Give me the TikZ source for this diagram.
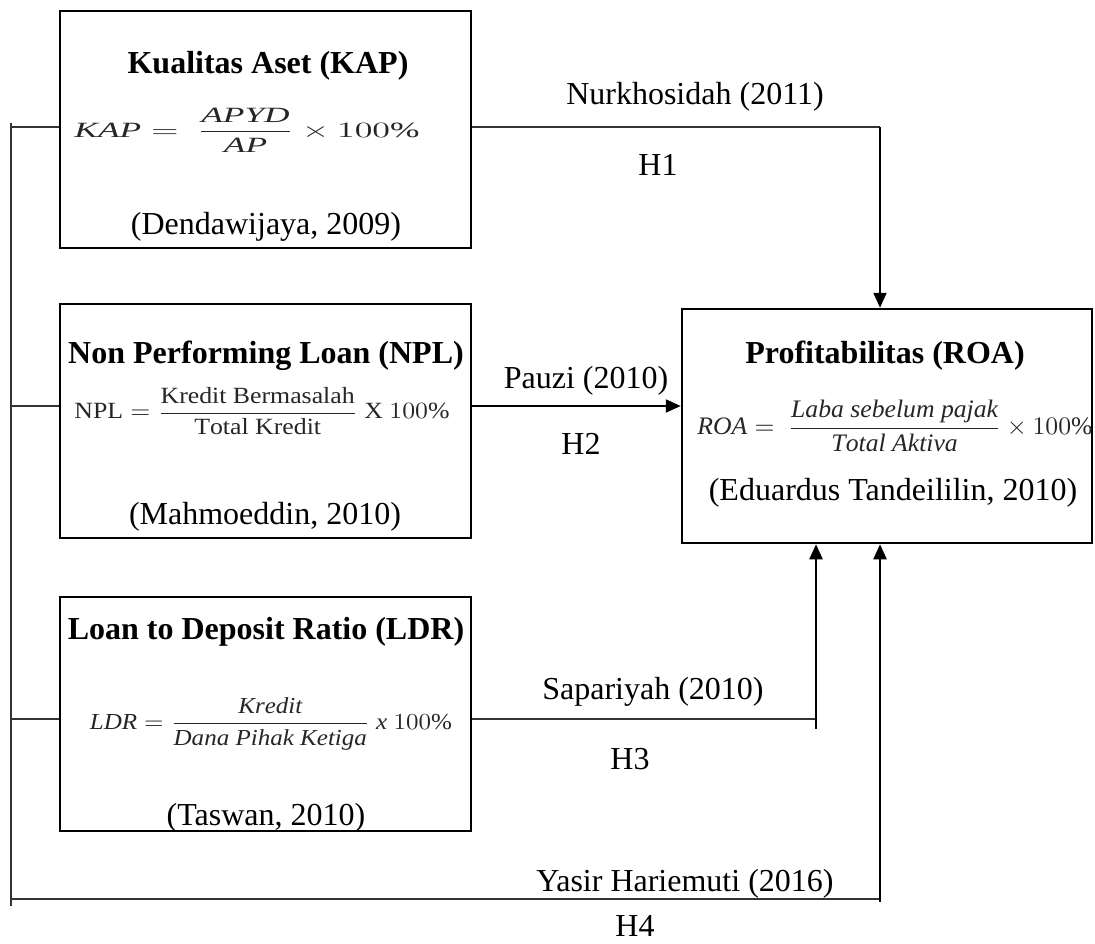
\documentclass[tikz,border=0pt]{standalone}
\usepackage{amsmath}
\usepackage{graphicx}
\usepackage{fontspec}
\setmainfont{Liberation Serif}
\usetikzlibrary{arrows.meta}
\begin{document}
\begin{tikzpicture}[x=1pt,y=-1pt,
  box/.style={draw=black, line width=2.5pt, minimum width=411pt, minimum height=234pt, inner sep=0pt},
  ttl/.style={font=\fontsize{32}{38}\selectfont\bfseries, inner sep=0pt},
  lbl/.style={font=\fontsize{32}{38}\selectfont, inner sep=0pt},
  frm/.style={inner sep=0pt, text=black!85},
  conn/.style={line width=1.4pt, draw=black!80},
  arr/.style={line width=2.2pt, draw=black, -{Triangle[length=15pt,width=13pt]}},
]
\useasboundingbox (0,0) rectangle (1095,944);

% boxes
\node[box, minimum height=237pt] (kap) at (265.5,129.5) {};
\node[box] (npl) at (265.5,421) {};
\node[box] (ldr) at (265.5,714) {};
\node[box, minimum width=410pt] (roa) at (887,426) {};

% KAP content
\node[ttl] (kapT) at (268,66) {Kualitas Aset (KAP)};
\node[frm] (kapF) at (247,130) {\resizebox*{345pt}{44pt}{$\displaystyle \mathit{KAP} =\ \frac{\mathit{APYD}}{\mathit{AP}}\times 100\%$}};
\node[lbl] (kapC) at (266,227) {(Dendawijaya, 2009)};

% NPL content
\node[ttl] (nplT) at (266,356) {Non Performing Loan (NPL)};
\node[frm] (nplF) at (262,411) {\resizebox*{375pt}{48pt}{$\displaystyle \mathrm{NPL} = \frac{\mathrm{Kredit\ Bermasalah}}{\mathrm{Total\ Kredit}}\ \mathrm{X}\ 100\%$}};
\node[lbl] (nplC) at (265,517) {(Mahmoeddin, 2010)};

% LDR content
\node[ttl] (ldrT) at (266,632) {Loan to Deposit Ratio (LDR)};
\node[frm] (ldrF) at (271,724) {\resizebox*{362pt}{52pt}{$\displaystyle \mathit{LDR} = \frac{\mathit{Kredit}}{\mathit{Dana\ Pihak\ Ketiga}}\ \mathit{x}\ 100\%$}};
\node[lbl] (ldrC) at (266,818) {(Taswan, 2010)};

% ROA content
\node[ttl] (roaT) at (885,356) {Profitabilitas (ROA)};
\node[frm] (roaF) at (895,426) {\resizebox*{395pt}{52pt}{$\displaystyle \mathit{ROA} =\ \frac{\mathit{Laba\ sebelum\ pajak}}{\mathit{Total\ Aktiva}}\times 100\%$}};
\node[lbl] (roaC) at (893,493) {(Eduardus Tandeililin, 2010)};

% labels
\node[lbl] (l1) at (695,97) {Nurkhosidah (2011)};
\node[lbl] (h1) at (658,165) {H1};
\node[lbl] (l2) at (586,381) {Pauzi (2010)};
\node[lbl] (h2) at (581,444) {H2};
\node[lbl] (l3) at (653,692) {Sapariyah (2010)};
\node[lbl] (h3) at (630,759) {H3};
\node[lbl] (l4) at (685,884) {Yasir Hariemuti (2016)};
\node[lbl] (h4) at (635,926) {H4};

% connectors
\coordinate (lt) at (11,123);
\coordinate (lb) at (11,906);
\draw[conn] (lt) -- (lb);
\coordinate (y1) at (11,127);
\coordinate (y2) at (11,406);
\coordinate (y3) at (11,719);
\coordinate (y4) at (11,899);
\draw[conn] (y1) -- (y1 -| kap.west);
\draw[conn] (y2) -- (y2 -| npl.west);
\draw[conn] (y3) -- (y3 -| ldr.west);

% H1
\coordinate (c1) at (880,127);
\draw[conn] (y1 -| kap.east) -- (c1);
\draw[arr] (c1) -- (c1 |- roa.north);
% H2
\draw[arr] (y2 -| npl.east) -- (y2 -| roa.west);
% H3
\coordinate (c3) at (816,719);
\coordinate (c3b) at (816,729);
\draw[conn] (y3 -| ldr.east) -- (c3);
\draw[arr] (c3b) -- (c3b |- roa.south);
% H4
\coordinate (c4) at (880,899);
\coordinate (c4b) at (880,902);
\draw[conn] (y4) -- (c4);
\draw[arr] (c4b) -- (c4b |- roa.south);
\end{tikzpicture}
\end{document}
